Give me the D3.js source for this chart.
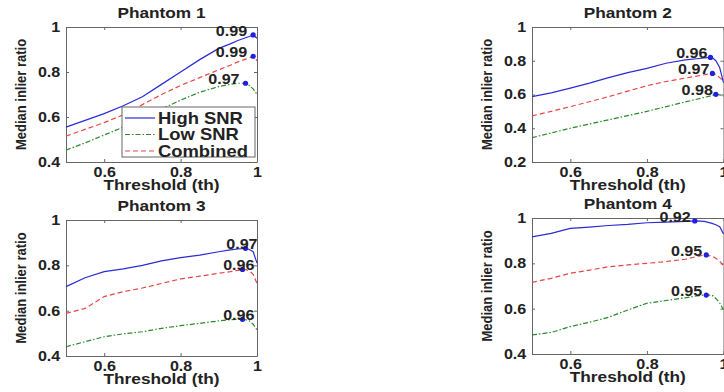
<!DOCTYPE html>
<html lang="en">
<head>
<meta charset="utf-8">
<title>Median inlier ratio vs threshold</title>
<script src="https://d3js.org/d3.v7.min.js"></script>
<style>
  body { margin: 0; background: #fff; }
  text { font-family: "Liberation Sans", Arial, sans-serif; font-weight: bold; fill: #222; }
  .axis path, .axis line { stroke: #666; }
</style>
</head>
<body>
<script>
// Threshold samples shared by every curve
var thresholds = [0.5, 0.55, 0.6, 0.65, 0.7, 0.75, 0.8, 0.85, 0.9, 0.93, 0.95, 0.97, 0.98, 0.99, 1.0];
var seriesNames = ["High SNR", "Low SNR", "Combined"];

// Phantom 1
var p1High = [0.555, 0.585, 0.615, 0.65, 0.69, 0.745, 0.80, 0.855, 0.905, 0.925, 0.94, 0.952, 0.958, 0.965, 0.95];
var p1Low  = [0.453, 0.485, 0.52, 0.555, 0.595, 0.635, 0.675, 0.71, 0.735, 0.745, 0.75, 0.75, 0.74, 0.725, 0.70];
var p1Comb = [0.515, 0.545, 0.575, 0.61, 0.655, 0.70, 0.74, 0.775, 0.81, 0.83, 0.845, 0.857, 0.863, 0.87, 0.85];
// Phantom 2
var p2High = [0.587, 0.61, 0.638, 0.667, 0.70, 0.73, 0.755, 0.785, 0.805, 0.812, 0.817, 0.82, 0.80, 0.76, 0.67];
var p2Low  = [0.344, 0.372, 0.40, 0.425, 0.45, 0.475, 0.50, 0.528, 0.556, 0.572, 0.583, 0.594, 0.601, 0.598, 0.59];
var p2Comb = [0.473, 0.50, 0.528, 0.557, 0.587, 0.62, 0.652, 0.677, 0.697, 0.709, 0.717, 0.725, 0.72, 0.70, 0.68];
// Phantom 3
var p3High = [0.706, 0.745, 0.772, 0.784, 0.80, 0.82, 0.834, 0.845, 0.86, 0.868, 0.872, 0.875, 0.87, 0.86, 0.81];
var p3Low  = [0.441, 0.463, 0.485, 0.498, 0.507, 0.522, 0.534, 0.544, 0.555, 0.56, 0.562, 0.56, 0.555, 0.54, 0.515];
var p3Comb = [0.588, 0.61, 0.662, 0.684, 0.70, 0.72, 0.74, 0.752, 0.765, 0.772, 0.778, 0.782, 0.775, 0.76, 0.72];
// Phantom 4
var p4High = [0.917, 0.932, 0.954, 0.96, 0.967, 0.972, 0.979, 0.982, 0.985, 0.987, 0.985, 0.976, 0.97, 0.962, 0.93];
var p4Low  = [0.484, 0.495, 0.521, 0.54, 0.562, 0.594, 0.624, 0.636, 0.648, 0.656, 0.66, 0.66, 0.645, 0.625, 0.595];
var p4Comb = [0.716, 0.734, 0.756, 0.77, 0.785, 0.793, 0.80, 0.808, 0.818, 0.83, 0.837, 0.832, 0.822, 0.81, 0.79];

// Best threshold markers: [threshold, ratio, label] for High, Low, Combined
var p1Peaks = [[0.99, 0.965, "0.99"], [0.97, 0.75, "0.97"], [0.99, 0.87, "0.99"]];
var p2Peaks = [[0.966, 0.82, "0.96"], [0.98, 0.601, "0.98"], [0.971, 0.725, "0.97"]];
var p3Peaks = [[0.97, 0.875, "0.97"], [0.962, 0.562, "0.96"], [0.962, 0.782, "0.96"]];
var p4Peaks = [[0.925, 0.987, "0.92"], [0.955, 0.66, "0.95"], [0.955, 0.837, "0.95"]];

var xTicks = [0.6, 0.8, 1];
var yTicksA = [0.4, 0.6, 0.8, 1];
var yTicksB = [0.2, 0.4, 0.6, 0.8, 1];

var colors = ["#2b2bd6", "#2a8a2a", "#e64646"];
var dashes = [null, "5,2,1.5,2", "5,3"];
var stretch = 1.15; // text in the picture is slightly wide

var panels = [
  { title: "Phantom 1", l: 66,  r: 257,   t: 27,  b: 162, ymin: 0.4, yt: yTicksA, data: [p1High, p1Low, p1Comb], peaks: p1Peaks, dx: -6, legend: true },
  { title: "Phantom 2", l: 532, r: 723.5, t: 27,  b: 162, ymin: 0.2, yt: yTicksB, data: [p2High, p2Low, p2Comb], peaks: p2Peaks, dx: -3 },
  { title: "Phantom 3", l: 66,  r: 257,   t: 220, b: 356, ymin: 0.4, yt: yTicksA, data: [p3High, p3Low, p3Comb], peaks: p3Peaks, dx: 12 },
  { title: "Phantom 4", l: 532, r: 723.5, t: 218, b: 354, ymin: 0.4, yt: yTicksA, data: [p4High, p4Low, p4Comb], peaks: p4Peaks, dx: -4 }
];

var svg = d3.select("body").append("svg")
  .attr("width", 724)
  .attr("height", 392);

function wideText(sel, x, y, extra) {
  return sel.attr("transform", "translate(" + x + "," + y + ") scale(" + stretch + ",1)" + (extra || ""));
}

var fmt = function(d) { return d === 1 ? "1" : d.toFixed(1); };

panels.forEach(function(p) {
  var x = d3.scaleLinear().domain([0.5, 1]).range([p.l, p.r]);
  var y = d3.scaleLinear().domain([p.ymin, 1]).range([p.b, p.t]);
  var g = svg.append("g");

  // box with inward ticks on all four sides
  g.append("g").attr("class", "axis")
    .attr("transform", "translate(0," + p.b + ")")
    .call(d3.axisBottom(x).tickValues(xTicks).tickFormat(fmt).tickSizeInner(-3).tickSizeOuter(0).tickPadding(5));
  g.append("g").attr("class", "axis")
    .attr("transform", "translate(0," + p.t + ")")
    .call(d3.axisTop(x).tickValues(xTicks).tickFormat("").tickSizeInner(-3).tickSizeOuter(0));
  g.append("g").attr("class", "axis")
    .attr("transform", "translate(" + p.l + ",0)")
    .call(d3.axisLeft(y).tickValues(p.yt).tickFormat(fmt).tickSizeInner(-3).tickSizeOuter(0).tickPadding(5));
  g.append("g").attr("class", "axis")
    .attr("transform", "translate(" + p.r + ",0)")
    .call(d3.axisRight(y).tickValues(p.yt).tickFormat("").tickSizeInner(-3).tickSizeOuter(0));

  g.selectAll(".axis text")
    .style("font-size", "14px")
    .style("font-family", "'Liberation Sans', Arial, sans-serif")
    .style("font-weight", "bold")
    .attr("fill", "#222")
    .attr("transform", "scale(" + stretch + ",1)");

  // curves
  var line = d3.line()
    .x(function(d, i) { return x(thresholds[i]); })
    .y(function(d) { return y(d); });
  p.data.forEach(function(vals, k) {
    g.append("path")
      .datum(vals)
      .attr("d", line)
      .attr("fill", "none")
      .attr("stroke", colors[k])
      .attr("stroke-width", 1.2)
      .attr("stroke-dasharray", dashes[k]);
  });

  // best-threshold markers and labels
  g.selectAll(".peak")
    .data(p.peaks)
    .enter()
    .append("circle")
    .attr("cx", function(d) { return x(d[0]); })
    .attr("cy", function(d) { return y(d[1]); })
    .attr("r", 2.6)
    .attr("fill", "#2020e0");
  p.peaks.forEach(function(d) {
    wideText(g.append("text"), x(d[0]) + p.dx, y(d[1]) + 1)
      .attr("text-anchor", "end")
      .style("font-size", "14px")
      .text(d[2]);
  });

  // title and axis labels
  var cx = (p.l + p.r) / 2;
  wideText(g.append("text"), cx, p.t - 9)
    .attr("text-anchor", "middle").style("font-size", "15px").text(p.title);
  wideText(g.append("text"), cx, p.b + 28)
    .attr("text-anchor", "middle").style("font-size", "15px").text("Threshold (th)");
  wideText(g.append("text"), p.l - 40, (p.t + p.b) / 2, " rotate(-90)")
    .attr("text-anchor", "middle").style("font-size", "13px").text("Median inlier ratio");

  if (p.legend) {
    var lg = g.append("g");
    lg.append("rect")
      .attr("x", 122).attr("y", 107).attr("width", 133).attr("height", 50)
      .attr("fill", "#fff").attr("stroke", "#666");
    seriesNames.forEach(function(name, k) {
      var ly = 118 + k * 16.5;
      lg.append("line")
        .attr("x1", 125).attr("x2", 155).attr("y1", ly).attr("y2", ly)
        .attr("stroke", colors[k]).attr("stroke-width", 1.2)
        .attr("stroke-dasharray", dashes[k]);
      wideText(lg.append("text"), 158, ly + 5.5)
        .style("font-size", "16px").text(name);
    });
  }
});
</script>
</body>
</html>
